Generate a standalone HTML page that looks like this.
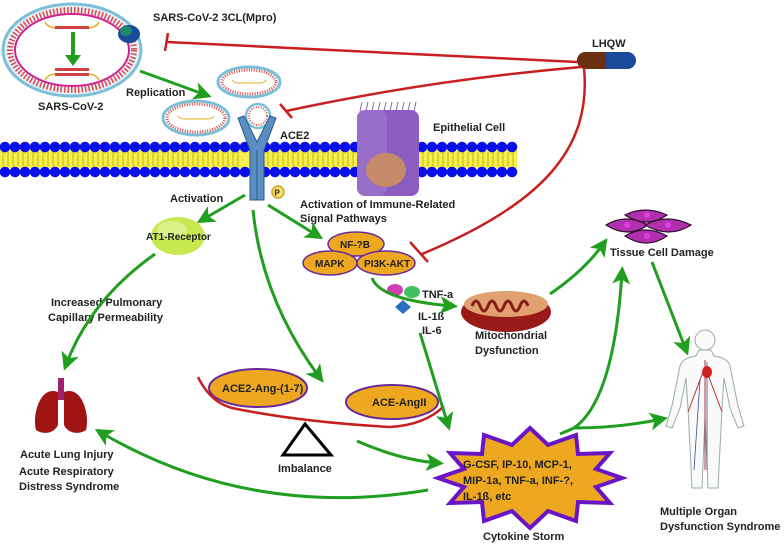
<!DOCTYPE html>
<html><head><meta charset="utf-8"><style>
html,body{margin:0;padding:0;background:#fff;}
svg{display:block;}
text{font-family:"Liberation Sans",Arial,sans-serif;font-weight:bold;font-size:11px;fill:#222;}
</style></head><body>
<svg width="784" height="547" viewBox="0 0 784 547" xmlns="http://www.w3.org/2000/svg">
<defs>
<marker id="ag" markerWidth="6" markerHeight="6" refX="4" refY="3" orient="auto" markerUnits="strokeWidth">
<path d="M0,0 L6,3 L0,6 L1.5,3 Z" fill="#1f9e1f"/></marker>
</defs>

<!-- membrane -->
<rect x="0" y="150" width="517" height="18" fill="#f4ee50"/>
<g stroke="#c9b800" stroke-width="1">
<path d="M3,152v14M8,152v14M13,152v14M18,152v14M23,152v14M28,152v14M33,152v14M38,152v14M43,152v14M48,152v14M53,152v14M58,152v14M63,152v14M68,152v14M73,152v14M78,152v14M83,152v14M88,152v14M93,152v14M98,152v14M103,152v14M108,152v14M113,152v14M118,152v14M123,152v14M128,152v14M133,152v14M138,152v14M143,152v14M148,152v14M153,152v14M158,152v14M163,152v14M168,152v14M173,152v14M178,152v14M183,152v14M188,152v14M193,152v14M198,152v14M203,152v14M208,152v14M213,152v14M218,152v14M223,152v14M228,152v14M233,152v14M238,152v14M268,152v14M273,152v14M278,152v14M283,152v14M288,152v14M293,152v14M298,152v14M303,152v14M308,152v14M313,152v14M318,152v14M323,152v14M328,152v14M333,152v14M338,152v14M343,152v14M348,152v14M353,152v14M423,152v14M428,152v14M433,152v14M438,152v14M443,152v14M448,152v14M453,152v14M458,152v14M463,152v14M468,152v14M473,152v14M478,152v14M483,152v14M488,152v14M493,152v14M498,152v14M503,152v14M508,152v14M513,152v14"/>
</g>
<g fill="#0a10e8">
<g id="row">
<circle cx="5" cy="147" r="5.3"/><circle cx="15" cy="147" r="5.3"/><circle cx="25" cy="147" r="5.3"/><circle cx="35" cy="147" r="5.3"/><circle cx="45" cy="147" r="5.3"/><circle cx="55" cy="147" r="5.3"/><circle cx="65" cy="147" r="5.3"/><circle cx="75" cy="147" r="5.3"/><circle cx="85" cy="147" r="5.3"/><circle cx="95" cy="147" r="5.3"/><circle cx="105" cy="147" r="5.3"/><circle cx="115" cy="147" r="5.3"/><circle cx="125" cy="147" r="5.3"/><circle cx="135" cy="147" r="5.3"/><circle cx="145" cy="147" r="5.3"/><circle cx="155" cy="147" r="5.3"/><circle cx="165" cy="147" r="5.3"/><circle cx="175" cy="147" r="5.3"/><circle cx="185" cy="147" r="5.3"/><circle cx="195" cy="147" r="5.3"/><circle cx="205" cy="147" r="5.3"/><circle cx="215" cy="147" r="5.3"/><circle cx="225" cy="147" r="5.3"/><circle cx="235" cy="147" r="5.3"/><circle cx="245" cy="147" r="5.3"/><circle cx="265" cy="147" r="5.3"/><circle cx="275" cy="147" r="5.3"/><circle cx="285" cy="147" r="5.3"/><circle cx="295" cy="147" r="5.3"/><circle cx="305" cy="147" r="5.3"/><circle cx="315" cy="147" r="5.3"/><circle cx="325" cy="147" r="5.3"/><circle cx="335" cy="147" r="5.3"/><circle cx="345" cy="147" r="5.3"/><circle cx="355" cy="147" r="5.3"/><circle cx="422" cy="147" r="5.3"/><circle cx="432" cy="147" r="5.3"/><circle cx="442" cy="147" r="5.3"/><circle cx="452" cy="147" r="5.3"/><circle cx="462" cy="147" r="5.3"/><circle cx="472" cy="147" r="5.3"/><circle cx="482" cy="147" r="5.3"/><circle cx="492" cy="147" r="5.3"/><circle cx="502" cy="147" r="5.3"/><circle cx="512" cy="147" r="5.3"/>
</g>
<use href="#row" y="25"/>
</g>

<!-- epithelial cell -->
<g stroke="#8a6ab0" stroke-width="1" fill="none">
<path d="M360,112 q1,-6 2,-10 M366,112 q1,-6 2,-10 M372,112 q1,-6 2,-10 M378,112 q1,-6 2,-10 M384,112 q1,-6 2,-10 M390,112 q1,-6 2,-10 M396,112 q1,-6 2,-10 M402,112 q1,-6 2,-10 M408,112 q1,-6 2,-10 M414,112 q1,-6 2,-10"/>
</g>
<rect x="357" y="110" width="62" height="86" rx="8" fill="#8c5cc0"/>
<rect x="357" y="110" width="30" height="86" rx="8" fill="#a27ad0" opacity="0.6"/>
<ellipse cx="386" cy="170" rx="20" ry="17" fill="#c48a6a"/>
<text x="433" y="131">Epithelial Cell</text>

<!-- big virus -->
<ellipse cx="72" cy="50" rx="69" ry="46" fill="#e8f0f8" stroke="#7cc0d8" stroke-width="3"/>
<ellipse cx="72" cy="50" rx="62" ry="40" fill="none" stroke="#d84848" stroke-width="6" stroke-dasharray="1.5 2"/>
<ellipse cx="72" cy="50" rx="57" ry="36" fill="#fff" stroke="#d02090" stroke-width="2"/>
<path d="M45,22 q3,6 12,6 h30 q9,0 12,-6" fill="none" stroke="#e0b020" stroke-width="1.5"/>
<path d="M45,80 q3,-6 12,-6 h30 q9,0 12,6" fill="none" stroke="#e0b020" stroke-width="1.5"/>
<rect x="55" y="26" width="34" height="3" fill="#d04040"/>
<rect x="55" y="68" width="34" height="3" fill="#d04040"/>
<rect x="55" y="73" width="34" height="3" fill="#d04040"/>
<path d="M73,32 V58" stroke="#1f9e1f" stroke-width="4"/>
<path d="M65,55 L73,66 L81,55 Z" fill="#1f9e1f"/>
<ellipse cx="129" cy="34" rx="11" ry="9" fill="#1a4a9a"/>
<ellipse cx="126" cy="31" rx="6" ry="5" fill="#1a8a6a"/>
<text x="38" y="110">SARS-CoV-2</text>
<text x="153" y="21">SARS-CoV-2 3CL(Mpro)</text>

<!-- small viruses -->
<g>
<ellipse cx="249" cy="82" rx="31" ry="15" fill="#fff" stroke="#7cc0d8" stroke-width="3"/>
<ellipse cx="249" cy="82" rx="27" ry="12" fill="none" stroke="#d84848" stroke-width="3" stroke-dasharray="1 1.5"/>
<path d="M232,80 q2,3 6,3 h22 q4,0 6,-3" fill="none" stroke="#e0b020"/>
<ellipse cx="196" cy="118" rx="33" ry="17" fill="#fff" stroke="#7cc0d8" stroke-width="3"/>
<ellipse cx="196" cy="118" rx="29" ry="14" fill="none" stroke="#d84848" stroke-width="3" stroke-dasharray="1 1.5"/>
<path d="M178,116 q2,3 6,3 h24 q4,0 6,-3" fill="none" stroke="#e0b020"/>
<circle cx="258" cy="116" r="12" fill="#fff" stroke="#7cc0d8" stroke-width="2.5"/>
<circle cx="258" cy="116" r="9" fill="none" stroke="#d84848" stroke-width="2" stroke-dasharray="1 1.5"/>
</g>

<!-- receptor Y -->
<path d="M238,118 L250,150 L250,200 L264,200 L264,150 L276,118 L270,116 L257,142 L244,116 Z" fill="#5a8ec0" stroke="#2a5a8a" stroke-width="1"/>
<path d="M257,150 V200" stroke="#2a5a8a" stroke-width="1"/>
<text x="280" y="139">ACE2</text>
<circle cx="278" cy="192" r="6" fill="#f8e070" stroke="#d0a020" stroke-width="1.5"/>
<text x="274.5" y="195.5" style="font-size:8px">P</text>

<text x="126" y="96">Replication</text>
<text x="170" y="202">Activation</text>
<text x="300" y="208">Activation of Immune-Related</text>
<text x="300" y="222">Signal Pathways</text>

<!-- LHQW -->
<text x="592" y="47">LHQW</text>
<rect x="577" y="52" width="59" height="17" rx="8.5" fill="#1a4a9a"/>
<path d="M585.5,52 H606 V69 H585.5 A8.5,8.5 0 0 1 585.5,52 Z" fill="#6a3010"/>

<!-- red inhibitors -->
<g stroke="#c81e1e" stroke-width="2.5" fill="none">
<path d="M577,62 L167,42"/><path d="M168,33 L165,51"/>
<path d="M581,67 Q430,80 286,111"/><path d="M280,104 L292,118"/>
<path d="M584,68 C592,150 540,205 422,254"/><path d="M410,242 L428,262"/>
</g>

<!-- AT1 -->
<ellipse cx="178" cy="236" rx="27" ry="19" fill="#c8e850"/>
<ellipse cx="172" cy="230" rx="15" ry="9" fill="#e4f4a0" opacity="0.7"/>
<text x="146" y="240" style="font-size:10px">AT1-Receptor</text>

<!-- signaling -->
<g fill="#eea820" stroke="#6a2a9a" stroke-width="1.5">
<ellipse cx="356" cy="244" rx="28" ry="12"/>
<ellipse cx="330" cy="263" rx="27" ry="12"/>
<ellipse cx="386" cy="263" rx="29" ry="12"/>
</g>
<text x="340" y="248" style="font-size:10px">NF-?B</text>
<text x="315" y="267" style="font-size:10px">MAPK</text>
<text x="364" y="267" style="font-size:10px">PI3K-AKT</text>

<!-- molecules -->
<ellipse cx="395" cy="290" rx="8" ry="6" fill="#d040b0"/>
<ellipse cx="412" cy="292" rx="8" ry="6" fill="#40c060"/>
<path d="M403,300 l8,7 l-8,7 l-8,-7 Z" fill="#2a70c0"/>
<text x="422" y="298">TNF-a</text>
<text x="418" y="320">IL-1ß</text>
<text x="422" y="334">IL-6</text>

<!-- mitochondria -->
<ellipse cx="506" cy="312" rx="45" ry="20" fill="#9a1a1a"/>
<ellipse cx="506" cy="304" rx="42" ry="13" fill="#e0a070"/>
<path d="M472,306 q4,-10 8,0 q4,10 8,0 q4,-10 8,0 q4,10 8,0 q4,-10 8,0 q4,10 8,0 q4,-10 8,0" fill="none" stroke="#8a1a1a" stroke-width="3"/>
<text x="475" y="339">Mitochondrial</text>
<text x="475" y="354">Dysfunction</text>

<!-- tissue cells -->
<g fill="#b030b0" stroke="#301030" stroke-width="1.2">
<path d="M625,215 q20,-10 42,0 q-20,14 -42,0Z"/>
<path d="M606,225 q20,-12 42,0 q-20,14 -42,0Z"/>
<path d="M645,225 q22,-12 46,0 q-22,14 -46,0Z"/>
<path d="M625,236 q20,-12 42,0 q-20,14 -42,0Z"/>
</g>
<g fill="#e040e0"><circle cx="647" cy="215" r="3"/><circle cx="627" cy="225" r="3"/><circle cx="668" cy="225" r="3"/><circle cx="647" cy="236" r="3"/></g>
<text x="610" y="256">Tissue Cell Damage</text>

<!-- lungs -->
<rect x="58" y="378" width="6" height="22" fill="#a0206a"/>
<path d="M58,392 C40,385 32,415 36,430 C45,436 55,432 58,425 Z" fill="#a01414"/>
<path d="M64,392 C82,385 90,415 86,430 C77,436 67,432 64,425 Z" fill="#a01414"/>
<text x="20" y="458">Acute Lung Injury</text>
<text x="19" y="475">Acute Respiratory</text>
<text x="19" y="490">Distress Syndrome</text>
<text x="51" y="306">Increased Pulmonary</text>
<text x="48" y="321">Capillary Permeability</text>

<!-- ACE ellipses & seesaw -->
<g fill="#eea820" stroke="#6a2a9a" stroke-width="2">
<ellipse cx="258" cy="388" rx="49" ry="19"/>
<ellipse cx="392" cy="402" rx="46" ry="17"/>
</g>
<text x="222" y="392">ACE2-Ang-(1-7)</text>
<text x="372" y="406">ACE-AngII</text>
<path d="M198,377 Q210,402 232,408 Q300,422 390,427 Q425,425 444,406" fill="none" stroke="#c81e1e" stroke-width="2.5"/>
<path d="M305,424 L283,455 L331,455 Z" fill="none" stroke="#000" stroke-width="3"/>
<text x="278" y="472">Imbalance</text>

<!-- cytokine storm -->
<polygon points="622,478 596,487 610,503 578,502 576,521 548,511 530,528 512,511 484,521 482,502 450,503 464,487 438,478 464,469 450,453 482,454 484,435 512,445 530,428 548,445 576,435 578,454 610,453 596,469" fill="#eea820" stroke="#6a14c8" stroke-width="4" stroke-linejoin="miter"/>
<text x="463" y="468">G-CSF, IP-10, MCP-1,</text>
<text x="463" y="484">MIP-1a, TNF-a, INF-?,</text>
<text x="463" y="500">IL-1ß, etc</text>
<text x="483" y="540">Cytokine Storm</text>

<!-- body -->
<g fill="#fafafa" stroke="#9aa" stroke-width="1">
<circle cx="705" cy="340" r="10"/>
<path d="M699,350 h12 l3,6 q14,2 16,10 l8,40 l6,20 l-6,2 l-8,-20 l-6,-30 l-2,30 l-4,80 l-10,0 l-3,-70 l-3,70 l-10,0 l-4,-80 l-2,-30 l-6,30 l-8,20 l-6,-2 l6,-20 l8,-40 q2,-8 16,-10 Z"/>
</g>
<path d="M705,360 V470 M703,372 l-15,40 M707,372 l15,40" stroke="#c03030" stroke-width="1"/>
<path d="M707,362 V470 M700,380 l-6,90" stroke="#3050a0" stroke-width="0.8"/>
<ellipse cx="707" cy="372" rx="5" ry="6" fill="#d02020"/>
<text x="660" y="515">Multiple Organ</text>
<text x="660" y="530">Dysfunction Syndrome</text>

<!-- green arrows -->
<g stroke="#1f9e1f" stroke-width="3" fill="none" marker-end="url(#ag)">
<path d="M140,71 L206,95"/>
<path d="M245,195 L202,220"/>
<path d="M268,205 L318,236"/>
<path d="M155,254 Q90,300 66,365"/>
<path d="M253,210 Q262,300 320,378"/>
<path d="M372,278 Q380,300 452,306"/>
<path d="M550,294 Q585,270 604,243"/>
<path d="M652,262 L686,350"/>
<path d="M420,333 L448,425"/>
<path d="M357,441 Q400,460 438,463"/>
<path d="M428,490 Q250,520 100,432"/>
<path d="M560,434 L574,428 Q614,400 622,272"/>
<path d="M574,428 Q620,428 662,419"/>
</g>
</svg>
</body></html>
